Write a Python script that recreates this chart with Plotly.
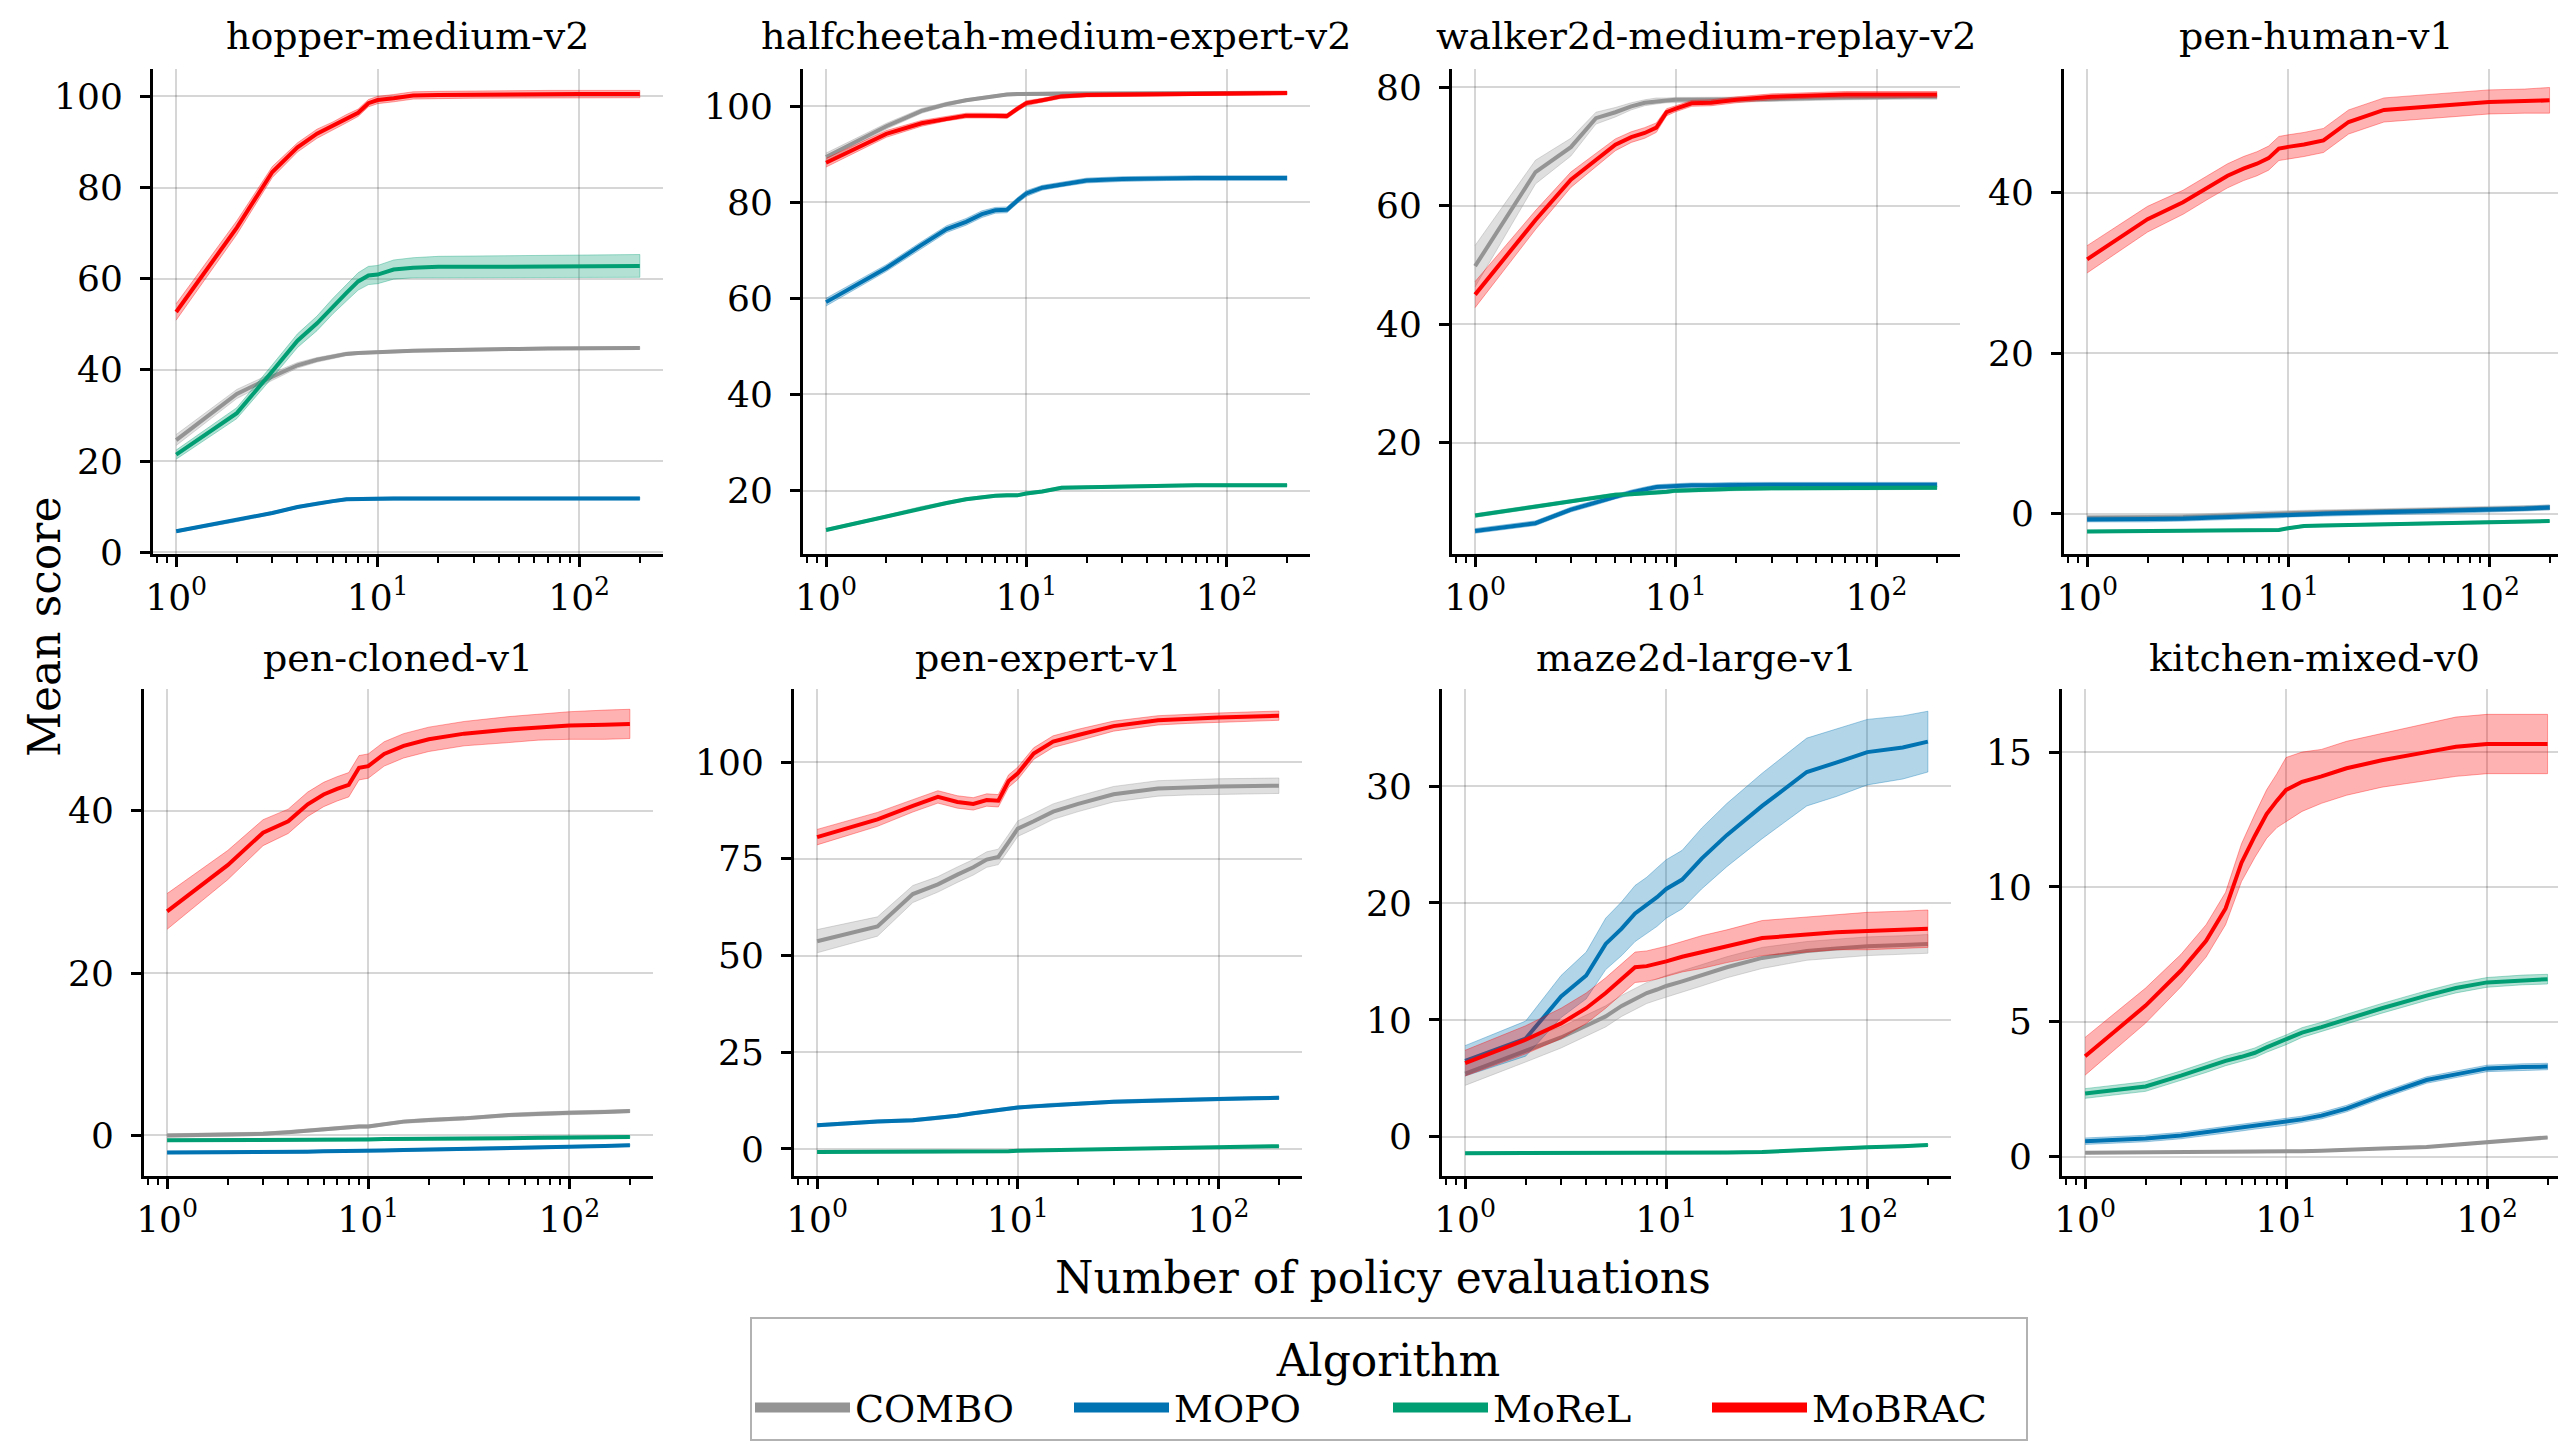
import plotly.graph_objects as go

W, H = 2558, 1444
FONT = "DejaVu Serif"

# ---------------- data ----------------
evals = [1, 2, 3, 4, 5, 6, 7, 8, 9, 10, 12, 15, 20, 30, 50, 70, 100, 150, 200]

algorithms = ["COMBO", "MOPO", "MoReL", "MoBRAC"]
datasets = ["hopper-medium-v2", "halfcheetah-medium-expert-v2", "walker2d-medium-replay-v2",
            "pen-human-v1", "pen-cloned-v1", "pen-expert-v1", "maze2d-large-v1", "kitchen-mixed-v0"]

xtick_vals = [1, 10, 100]
xtick_text = ["10<sup>0</sup>", "10<sup>1</sup>", "10<sup>2</sup>"]
xminor_vals = [0.8, 0.9, 2, 3, 4, 5, 6, 7, 8, 9, 20, 30, 40, 50, 60, 70, 80, 90, 200]

yticks_hopper = [0, 20, 40, 60, 80, 100]
yticks_halfcheetah = [20, 40, 60, 80, 100]
yticks_walker = [20, 40, 60, 80]
yticks_pen_human = [0, 20, 40]
yticks_pen_cloned = [0, 20, 40]
yticks_pen_expert = [0, 25, 50, 75, 100]
yticks_maze = [0, 10, 20, 30]
yticks_kitchen = [0, 5, 10, 15]

# hopper-medium-v2
hopper_combo = [24.6, 34.7, 38.5, 41.0, 42.2, 42.9, 43.5, 43.7, 43.8, 43.9, 44.1, 44.2, 44.3, 44.5, 44.6, 44.7, 44.7, 44.8, 44.8]
hopper_combo_sd = [1.2, 1.0, 0.8, 0.6, 0.5, 0.4, 0.4, 0.3, 0.3, 0.3, 0.3, 0.3, 0.3, 0.3, 0.3, 0.3, 0.3, 0.3, 0.3]
hopper_mopo = [4.6, 7.0, 8.6, 9.9, 10.7, 11.2, 11.6, 11.7, 11.75, 11.75, 11.8, 11.8, 11.8, 11.8, 11.8, 11.8, 11.8, 11.8, 11.8]
hopper_mopo_sd = [0.3, 0.3, 0.3, 0.3, 0.3, 0.3, 0.3, 0.3, 0.3, 0.3, 0.3, 0.3, 0.3, 0.3, 0.3, 0.3, 0.3, 0.3, 0.3]
hopper_morel = [21.4, 30.5, 39.7, 46.4, 50.2, 54.0, 56.9, 59.4, 60.7, 60.9, 62.0, 62.4, 62.6, 62.6, 62.6, 62.7, 62.7, 62.8, 62.8]
hopper_morel_sd = [1.0, 1.2, 1.4, 1.5, 1.6, 1.7, 1.8, 1.9, 2.0, 2.0, 2.1, 2.2, 2.3, 2.4, 2.4, 2.5, 2.5, 2.5, 2.5]
hopper_mobrac = [52.7, 71.2, 83.4, 88.8, 91.8, 93.5, 95.1, 96.4, 98.5, 99.2, 99.6, 100.2, 100.3, 100.4, 100.4, 100.5, 100.5, 100.5, 100.5]
hopper_mobrac_sd = [1.8, 1.5, 1.2, 1.0, 1.0, 0.9, 0.9, 0.8, 0.8, 0.8, 0.8, 0.8, 0.8, 0.8, 0.8, 0.8, 0.8, 0.8, 0.8]

# halfcheetah-medium-expert-v2
halfcheetah_combo = [89.4, 95.8, 99.0, 100.4, 101.2, 101.7, 102.1, 102.4, 102.5, 102.5, 102.6, 102.7, 102.7, 102.7, 102.7, 102.7, 102.7, 102.7, 102.7]
halfcheetah_combo_sd = [0.8, 0.6, 0.5, 0.4, 0.3, 0.3, 0.3, 0.3, 0.3, 0.3, 0.3, 0.3, 0.3, 0.3, 0.3, 0.3, 0.3, 0.3, 0.3]
halfcheetah_mopo = [59.2, 66.3, 71.1, 74.4, 75.9, 77.5, 78.3, 78.4, 80.3, 81.8, 83.0, 83.7, 84.5, 84.8, 85.0, 85.0, 85.0, 85.0, 85.0]
halfcheetah_mopo_sd = [0.8, 0.7, 0.7, 0.7, 0.7, 0.7, 0.6, 0.6, 0.6, 0.6, 0.5, 0.5, 0.5, 0.5, 0.5, 0.5, 0.5, 0.5, 0.5]
halfcheetah_morel = [11.8, 14.6, 16.4, 17.4, 18.2, 18.6, 18.9, 19.0, 19.0, 19.4, 19.8, 20.6, 20.7, 20.9, 21.1, 21.1, 21.1, 21.1, 21.1]
halfcheetah_morel_sd = [0.3, 0.3, 0.3, 0.3, 0.3, 0.3, 0.3, 0.3, 0.3, 0.3, 0.3, 0.3, 0.3, 0.3, 0.3, 0.3, 0.3, 0.3, 0.3]
halfcheetah_mobrac = [88.2, 94.2, 96.4, 97.4, 98.0, 98.0, 98.0, 97.9, 99.4, 100.6, 101.2, 102.0, 102.3, 102.4, 102.5, 102.6, 102.7, 102.7, 102.7]
halfcheetah_mobrac_sd = [0.9, 0.7, 0.6, 0.5, 0.5, 0.5, 0.5, 0.5, 0.5, 0.5, 0.4, 0.4, 0.4, 0.4, 0.4, 0.4, 0.4, 0.4, 0.4]

# walker2d-medium-replay-v2
walker_combo = [49.8, 65.7, 69.9, 74.8, 75.8, 76.8, 77.4, 77.7, 77.8, 77.9, 77.9, 77.9, 77.9, 78.0, 78.2, 78.3, 78.4, 78.4, 78.4]
walker_combo_sd = [3.5, 2.0, 1.5, 1.0, 0.8, 0.6, 0.5, 0.5, 0.4, 0.4, 0.4, 0.4, 0.4, 0.4, 0.4, 0.4, 0.4, 0.4, 0.4]
walker_mopo = [5.1, 6.4, 8.7, 9.9, 10.9, 11.6, 12.1, 12.5, 12.6, 12.7, 12.8, 12.8, 12.9, 12.9, 12.9, 12.9, 12.9, 12.9, 12.9]
walker_mopo_sd = [0.4, 0.4, 0.4, 0.4, 0.4, 0.4, 0.4, 0.4, 0.4, 0.4, 0.4, 0.4, 0.4, 0.4, 0.4, 0.4, 0.4, 0.4, 0.4]
walker_morel = [7.7, 9.2, 10.1, 10.8, 11.2, 11.3, 11.4, 11.6, 11.7, 11.9, 12.0, 12.1, 12.2, 12.3, 12.3, 12.4, 12.4, 12.4, 12.4]
walker_morel_sd = [0.3, 0.3, 0.3, 0.3, 0.3, 0.3, 0.3, 0.3, 0.3, 0.3, 0.3, 0.3, 0.3, 0.3, 0.3, 0.3, 0.3, 0.3, 0.3]
walker_mobrac = [45.0, 57.6, 64.4, 67.7, 70.3, 71.6, 72.3, 73.2, 75.8, 76.4, 77.3, 77.4, 77.9, 78.4, 78.7, 78.8, 78.8, 78.8, 78.8]
walker_mobrac_sd = [2.2, 1.6, 1.3, 1.1, 1.0, 0.9, 0.9, 0.8, 0.6, 0.5, 0.5, 0.5, 0.5, 0.5, 0.5, 0.5, 0.5, 0.5, 0.5]

# pen-human-v1
pen_human_combo = [-0.5, -0.5, -0.4, -0.3, -0.2, -0.1, 0.0, 0.05, 0.1, 0.1, 0.15, 0.2, 0.25, 0.35, 0.45, 0.55, 0.6, 0.7, 0.8]
pen_human_combo_sd = [0.3, 0.3, 0.3, 0.3, 0.3, 0.3, 0.3, 0.3, 0.3, 0.3, 0.3, 0.3, 0.3, 0.3, 0.3, 0.3, 0.3, 0.3, 0.3]
pen_human_mopo = [-0.7, -0.7, -0.6, -0.5, -0.4, -0.35, -0.3, -0.25, -0.2, -0.1, -0.05, 0.0, 0.1, 0.2, 0.3, 0.4, 0.5, 0.65, 0.8]
pen_human_mopo_sd = [0.3, 0.3, 0.3, 0.3, 0.3, 0.3, 0.3, 0.3, 0.3, 0.3, 0.3, 0.3, 0.3, 0.3, 0.3, 0.3, 0.3, 0.3, 0.3]
pen_human_morel = [-2.2, -2.15, -2.1, -2.05, -2.0, -2.0, -2.0, -2.0, -2.0, -1.8, -1.5, -1.45, -1.4, -1.3, -1.2, -1.1, -1.0, -0.95, -0.9]
pen_human_morel_sd = [0.15, 0.15, 0.15, 0.15, 0.15, 0.15, 0.15, 0.15, 0.15, 0.15, 0.15, 0.15, 0.15, 0.15, 0.15, 0.15, 0.15, 0.15, 0.15]
pen_human_mobrac = [31.7, 36.7, 38.8, 40.7, 42.1, 43.0, 43.6, 44.3, 45.5, 45.7, 46.0, 46.5, 48.8, 50.3, 50.7, 51.0, 51.3, 51.4, 51.5]
pen_human_mobrac_sd = [1.7, 1.6, 1.5, 1.5, 1.5, 1.5, 1.5, 1.5, 1.5, 1.5, 1.5, 1.5, 1.5, 1.5, 1.5, 1.5, 1.5, 1.5, 1.6]

# pen-cloned-v1
pen_cloned_combo = [0.0, 0.1, 0.2, 0.4, 0.6, 0.8, 0.9, 1.0, 1.1, 1.1, 1.4, 1.7, 1.9, 2.1, 2.5, 2.7, 2.8, 2.9, 3.0]
pen_cloned_combo_sd = [0.2, 0.2, 0.2, 0.2, 0.2, 0.2, 0.2, 0.2, 0.2, 0.2, 0.2, 0.2, 0.2, 0.2, 0.2, 0.2, 0.2, 0.2, 0.2]
pen_cloned_mopo = [-2.1, -2.1, -2.05, -2.0, -2.0, -1.95, -1.95, -1.9, -1.9, -1.9, -1.85, -1.8, -1.75, -1.7, -1.6, -1.5, -1.4, -1.3, -1.2]
pen_cloned_mopo_sd = [0.15, 0.15, 0.15, 0.15, 0.15, 0.15, 0.15, 0.15, 0.15, 0.15, 0.15, 0.15, 0.15, 0.15, 0.15, 0.15, 0.15, 0.15, 0.15]
pen_cloned_morel = [-0.6, -0.6, -0.6, -0.55, -0.55, -0.5, -0.5, -0.5, -0.5, -0.5, -0.45, -0.45, -0.4, -0.4, -0.35, -0.3, -0.3, -0.25, -0.2]
pen_cloned_morel_sd = [0.15, 0.15, 0.15, 0.15, 0.15, 0.15, 0.15, 0.15, 0.15, 0.15, 0.15, 0.15, 0.15, 0.15, 0.15, 0.15, 0.15, 0.15, 0.15]
pen_cloned_mobrac = [27.6, 33.3, 37.3, 38.7, 40.8, 42.0, 42.7, 43.2, 45.3, 45.5, 47.0, 48.0, 48.8, 49.5, 50.0, 50.3, 50.5, 50.6, 50.7]
pen_cloned_mobrac_sd = [2.2, 1.8, 1.6, 1.5, 1.5, 1.5, 1.5, 1.5, 1.5, 1.5, 1.5, 1.5, 1.5, 1.5, 1.6, 1.6, 1.7, 1.8, 1.8]

# pen-expert-v1
pen_expert_combo = [53.7, 57.5, 65.9, 68.4, 70.9, 72.8, 74.8, 75.5, 79.3, 82.8, 84.7, 87.2, 89.2, 91.7, 93.2, 93.5, 93.7, 93.8, 93.9]
pen_expert_combo_sd = [3.0, 2.5, 2.2, 2.0, 2.0, 2.0, 2.0, 2.0, 2.0, 2.0, 2.0, 2.0, 2.0, 2.0, 2.0, 2.0, 2.0, 2.0, 2.0]
pen_expert_mopo = [6.1, 7.1, 7.4, 8.0, 8.6, 9.2, 9.7, 10.1, 10.4, 10.7, 11.0, 11.4, 11.7, 12.2, 12.6, 12.8, 12.9, 13.1, 13.2]
pen_expert_mopo_sd = [0.4, 0.4, 0.4, 0.4, 0.4, 0.4, 0.4, 0.4, 0.4, 0.4, 0.4, 0.4, 0.4, 0.4, 0.4, 0.4, 0.4, 0.4, 0.4]
pen_expert_morel = [-0.8, -0.8, -0.8, -0.8, -0.8, -0.7, -0.7, -0.6, -0.6, -0.5, -0.4, -0.3, -0.2, 0.0, 0.2, 0.3, 0.4, 0.5, 0.7]
pen_expert_morel_sd = [0.2, 0.2, 0.2, 0.2, 0.2, 0.2, 0.2, 0.2, 0.2, 0.2, 0.2, 0.2, 0.2, 0.2, 0.2, 0.2, 0.2, 0.2, 0.2]
pen_expert_mobrac = [80.6, 85.2, 88.7, 91.0, 89.7, 89.2, 90.2, 90.0, 95.1, 97.1, 102.2, 105.3, 107.0, 109.3, 110.8, 111.2, 111.5, 111.8, 112.0]
pen_expert_mobrac_sd = [2.0, 1.8, 1.6, 1.6, 1.6, 1.6, 1.6, 1.6, 1.6, 1.6, 1.5, 1.5, 1.5, 1.3, 1.2, 1.2, 1.2, 1.2, 1.2]

# maze2d-large-v1
maze_combo = [5.4, 7.4, 8.5, 9.5, 10.3, 11.2, 11.8, 12.3, 12.6, 12.9, 13.3, 13.8, 14.5, 15.3, 15.9, 16.1, 16.3, 16.4, 16.5]
maze_combo_sd = [1.0, 1.0, 0.9, 0.9, 0.9, 0.9, 0.9, 0.9, 0.9, 0.9, 0.9, 0.9, 0.9, 0.9, 0.8, 0.8, 0.8, 0.8, 0.8]
maze_mopo = [6.5, 8.4, 12.0, 13.8, 16.5, 17.8, 19.1, 19.8, 20.5, 21.2, 22.0, 23.8, 25.8, 28.3, 31.2, 32.0, 32.9, 33.3, 33.8]
maze_mopo_sd = [1.3, 1.5, 1.8, 2.0, 2.2, 2.3, 2.4, 2.4, 2.5, 2.5, 2.5, 2.6, 2.7, 2.8, 2.9, 2.9, 2.8, 2.7, 2.6]
maze_morel = [-1.4, -1.4, -1.4, -1.4, -1.4, -1.4, -1.4, -1.4, -1.4, -1.4, -1.4, -1.35, -1.35, -1.3, -1.1, -1.0, -0.9, -0.8, -0.7]
maze_morel_sd = [0.1, 0.1, 0.1, 0.1, 0.1, 0.1, 0.1, 0.1, 0.1, 0.1, 0.1, 0.1, 0.1, 0.1, 0.1, 0.1, 0.1, 0.1, 0.1]
maze_mobrac = [6.3, 8.3, 9.7, 11.0, 12.3, 13.5, 14.5, 14.6, 14.8, 15.0, 15.4, 15.8, 16.3, 17.0, 17.3, 17.5, 17.6, 17.7, 17.8]
maze_mobrac_sd = [1.1, 1.2, 1.3, 1.3, 1.3, 1.3, 1.3, 1.3, 1.3, 1.3, 1.3, 1.4, 1.4, 1.5, 1.5, 1.5, 1.6, 1.6, 1.6]

# kitchen-mixed-v0
kitchen_combo = [0.14, 0.15, 0.15, 0.16, 0.16, 0.17, 0.17, 0.18, 0.18, 0.18, 0.2, 0.22, 0.24, 0.3, 0.36, 0.45, 0.53, 0.62, 0.71]
kitchen_combo_sd = [0.03, 0.03, 0.03, 0.03, 0.03, 0.03, 0.03, 0.03, 0.03, 0.03, 0.03, 0.03, 0.03, 0.03, 0.03, 0.03, 0.03, 0.03, 0.03]
kitchen_mopo = [0.57, 0.67, 0.78, 0.9, 0.99, 1.07, 1.14, 1.2, 1.24, 1.28, 1.38, 1.52, 1.78, 2.27, 2.84, 3.05, 3.27, 3.32, 3.34]
kitchen_mopo_sd = [0.12, 0.12, 0.12, 0.12, 0.12, 0.12, 0.12, 0.12, 0.12, 0.12, 0.12, 0.12, 0.12, 0.12, 0.12, 0.12, 0.12, 0.12, 0.12]
kitchen_morel = [2.34, 2.6, 3.0, 3.3, 3.55, 3.7, 3.85, 4.05, 4.2, 4.33, 4.6, 4.8, 5.1, 5.5, 5.97, 6.25, 6.46, 6.55, 6.58]
kitchen_morel_sd = [0.18, 0.18, 0.18, 0.18, 0.18, 0.18, 0.18, 0.18, 0.18, 0.18, 0.18, 0.18, 0.18, 0.18, 0.18, 0.18, 0.18, 0.18, 0.18]
kitchen_mobrac = [3.72, 5.6, 6.9, 8.0, 9.2, 10.9, 11.9, 12.7, 13.2, 13.6, 13.9, 14.1, 14.4, 14.7, 15.0, 15.2, 15.3, 15.3, 15.3]
kitchen_mobrac_sd = [0.7, 0.65, 0.6, 0.6, 0.6, 0.7, 0.8, 0.9, 1.0, 1.2, 1.1, 1.0, 1.0, 1.0, 1.05, 1.1, 1.1, 1.1, 1.1]

# ---------------- styling ----------------
COLORS = {"COMBO": (148, 148, 148), "MOPO": (1, 115, 178), "MoReL": (2, 158, 115), "MoBRAC": (255, 0, 0)}

series = [
    [(hopper_combo, hopper_combo_sd), (hopper_mopo, hopper_mopo_sd), (hopper_morel, hopper_morel_sd), (hopper_mobrac, hopper_mobrac_sd)],
    [(halfcheetah_combo, halfcheetah_combo_sd), (halfcheetah_mopo, halfcheetah_mopo_sd), (halfcheetah_morel, halfcheetah_morel_sd), (halfcheetah_mobrac, halfcheetah_mobrac_sd)],
    [(walker_combo, walker_combo_sd), (walker_mopo, walker_mopo_sd), (walker_morel, walker_morel_sd), (walker_mobrac, walker_mobrac_sd)],
    [(pen_human_combo, pen_human_combo_sd), (pen_human_mopo, pen_human_mopo_sd), (pen_human_morel, pen_human_morel_sd), (pen_human_mobrac, pen_human_mobrac_sd)],
    [(pen_cloned_combo, pen_cloned_combo_sd), (pen_cloned_mopo, pen_cloned_mopo_sd), (pen_cloned_morel, pen_cloned_morel_sd), (pen_cloned_mobrac, pen_cloned_mobrac_sd)],
    [(pen_expert_combo, pen_expert_combo_sd), (pen_expert_mopo, pen_expert_mopo_sd), (pen_expert_morel, pen_expert_morel_sd), (pen_expert_mobrac, pen_expert_mobrac_sd)],
    [(maze_combo, maze_combo_sd), (maze_mopo, maze_mopo_sd), (maze_morel, maze_morel_sd), (maze_mobrac, maze_mobrac_sd)],
    [(kitchen_combo, kitchen_combo_sd), (kitchen_mopo, kitchen_mopo_sd), (kitchen_morel, kitchen_morel_sd), (kitchen_mobrac, kitchen_mobrac_sd)],
]
yticks = [yticks_hopper, yticks_halfcheetah, yticks_walker, yticks_pen_human,
          yticks_pen_cloned, yticks_pen_expert, yticks_maze, yticks_kitchen]

# panel geometry in pixels: (left, right, top, bottom, xrange_hi, yrange, title_center_x)
geom = [
    (153, 663, 69, 554, 2.416, (-0.4, 106.0), 408),
    (803, 1310, 69, 554, 2.416, (6.8, 107.7), 1056),
    (1452, 1960, 69, 554, 2.416, (1.2, 83.1), 1706),
    (2064, 2558, 69, 554, 2.343, (-5.0, 55.4), 2316),
    (144, 653, 689, 1176, 2.416, (-5.0, 55.0), 398),
    (794, 1302, 689, 1176, 2.416, (-7.0, 118.9), 1048),
    (1442, 1951, 689, 1176, 2.416, (-3.35, 38.3), 1696),
    (2062, 2558, 689, 1176, 2.353, (-0.72, 17.34), 2314),
]

TICK_FONT = dict(family=FONT, size=36, color="black")
GRID = "rgba(0,0,0,0.16)"

fig = go.Figure()

for i, (panel_series, g) in enumerate(zip(series, geom)):
    ax = "" if i == 0 else str(i + 1)
    for alg, (mean, sd) in zip(algorithms, panel_series):
        r, gg, b = COLORS[alg]
        hi = [m + s for m, s in zip(mean, sd)]
        lo = [m - s for m, s in zip(mean, sd)]
        fig.add_trace(go.Scatter(
            x=evals + evals[::-1], y=hi + lo[::-1],
            fill="toself", fillcolor=f"rgba({r},{gg},{b},0.3)",
            line=dict(color=f"rgba({r},{gg},{b},0.35)", width=1),
            mode="lines", hoverinfo="skip", showlegend=False,
            xaxis="x" + ax, yaxis="y" + ax))
        fig.add_trace(go.Scatter(
            x=evals, y=mean, mode="lines", name=alg,
            line=dict(color=f"rgb({r},{gg},{b})", width=4),
            showlegend=False, legendgroup=alg,
            xaxis="x" + ax, yaxis="y" + ax))

# legend entries (thick swatches like the reference)
for alg in algorithms:
    r, gg, b = COLORS[alg]
    fig.add_trace(go.Scatter(x=[None], y=[None], mode="lines", name=alg,
                             line=dict(color=f"rgb({r},{gg},{b})", width=16),
                             legendgroup=alg, showlegend=True, xaxis="x", yaxis="y"))

layout = dict(
    width=W, height=H,
    margin=dict(l=0, r=0, t=0, b=0, autoexpand=False),
    paper_bgcolor="white", plot_bgcolor="white",
    font=dict(family=FONT, color="black"),
    showlegend=True,
    legend=dict(
        orientation="h", x=750 / W, y=1 - 1317 / H, xanchor="left", yanchor="top",
        bordercolor="rgba(0,0,0,0.3)", borderwidth=2, bgcolor="white",
        font=dict(family=FONT, size=38, color="black"),
        title=dict(text="Algorithm", side="top center", font=dict(family=FONT, size=44, color="black")),
        entrywidth=209, itemwidth=95,
    ),
)

annotations = []
for i, (g, title) in enumerate(zip(geom, datasets)):
    left, right, top, bottom, xhi, yr, tcx = g
    key = "" if i == 0 else str(i + 1)
    layout["xaxis" + key] = dict(
        type="log", domain=[left / W, right / W], anchor="y" + key,
        range=[-0.115, xhi], automargin=False,
        tickmode="array", tickvals=xtick_vals, ticktext=xtick_text,
        ticks="outside", ticklen=10, tickwidth=2.5, tickcolor="black",
        showline=True, linecolor="black", linewidth=3,
        showgrid=True, gridcolor=GRID, gridwidth=2, zeroline=False,
        tickfont=TICK_FONT,
        minor=dict(tickmode="array", tickvals=xminor_vals, ticks="outside", ticklen=6,
                   tickwidth=2, tickcolor="black", showgrid=False),
    )
    layout["yaxis" + key] = dict(
        domain=[1 - bottom / H, 1 - top / H], anchor="x" + key,
        range=list(yr), tickmode="array", tickvals=yticks[i], automargin=False,
        ticks="outside", ticklen=10, tickwidth=2.5, tickcolor="black",
        showline=True, linecolor="black", linewidth=3,
        showgrid=True, gridcolor=GRID, gridwidth=2, zeroline=False,
        tickfont=TICK_FONT, ticklabelstandoff=10,
    )
    ty = 36 if i < 4 else 658
    annotations.append(dict(text=title, x=tcx / W, y=1 - ty / H, xref="paper", yref="paper",
                            xanchor="center", yanchor="middle", showarrow=False,
                            font=dict(family=FONT, size=38, color="black")))

annotations.append(dict(text="Number of policy evaluations", x=1383 / W, y=1 - 1277 / H,
                        xref="paper", yref="paper", xanchor="center", yanchor="middle",
                        showarrow=False, font=dict(family=FONT, size=44, color="black")))
annotations.append(dict(text="Mean score", x=44 / W, y=1 - 627 / H, textangle=-90,
                        xref="paper", yref="paper", xanchor="center", yanchor="middle",
                        showarrow=False, font=dict(family=FONT, size=44, color="black")))
layout["annotations"] = annotations

fig.update_layout(**layout)
fig.write_html("out.html", config={"displayModeBar": False},
               post_script="document.body.style.margin='0px';document.body.style.overflow='hidden';")
